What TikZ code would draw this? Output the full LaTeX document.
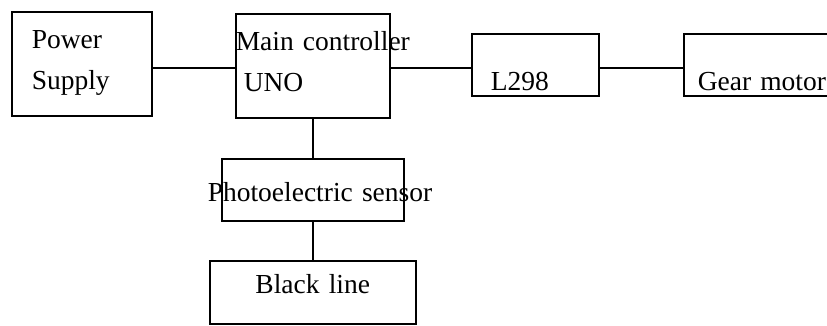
\documentclass[tikz,border=0pt]{standalone}
\usepackage{fontspec}
\setmainfont{Liberation Serif}
\usepackage{tikz}
\usetikzlibrary{positioning}

\begin{document}
\begin{tikzpicture}[
    x=1pt, y=-1pt,
    every node/.style={font=\fontsize{27.5}{41}\selectfont},
    blockbox/.style={draw, line width=1.5pt, inner ysep=0pt, inner xsep=0pt, align=left, anchor=north west},
    link/.style={line width=1.5pt},
  ]
    \useasboundingbox (0,0) rectangle (827,325);

    \node[blockbox, inner xsep=20pt, text width=100pt, text height=37pt, text depth=67pt] (power) at (11,11) {Power\\Supply};
    \node[blockbox, text width=154pt, text height=37pt, text depth=67pt] (main) at (235,13) {\mbox{Main controller}\\\hspace*{8pt}UNO};
    \node[blockbox, inner xsep=19pt, text width=89pt, text height=57pt, text depth=5pt] (driver) at (471,33) {L298};
    \node[blockbox, inner xsep=14pt, text width=132pt, text height=57pt, text depth=5pt] (motor) at (683,33) {\mbox{Gear motor}};
    \node[blockbox, text width=182pt, text height=43pt, text depth=19pt] (sensor) at (221,158) {\hspace*{-14pt}\mbox{Photoelectric sensor}};
    \node[blockbox, align=center, text width=206pt, text height=33pt, text depth=30pt] (track) at (209,260) {Black line};

    \draw[link] ([yshift=-4pt]power.east) -- ([yshift=-2pt]main.west);
    \draw[link] ([yshift=-2pt]main.east) -- ([yshift=-3pt]driver.west);
    \draw[link] ([yshift=-3pt]driver.east) -- ([yshift=-3pt]motor.west);
    \draw[link] (main.south) -- (main.south |- sensor.north);
    \draw[link] (sensor.south) -- (sensor.south |- track.north);
  \end{tikzpicture}
\end{document}
